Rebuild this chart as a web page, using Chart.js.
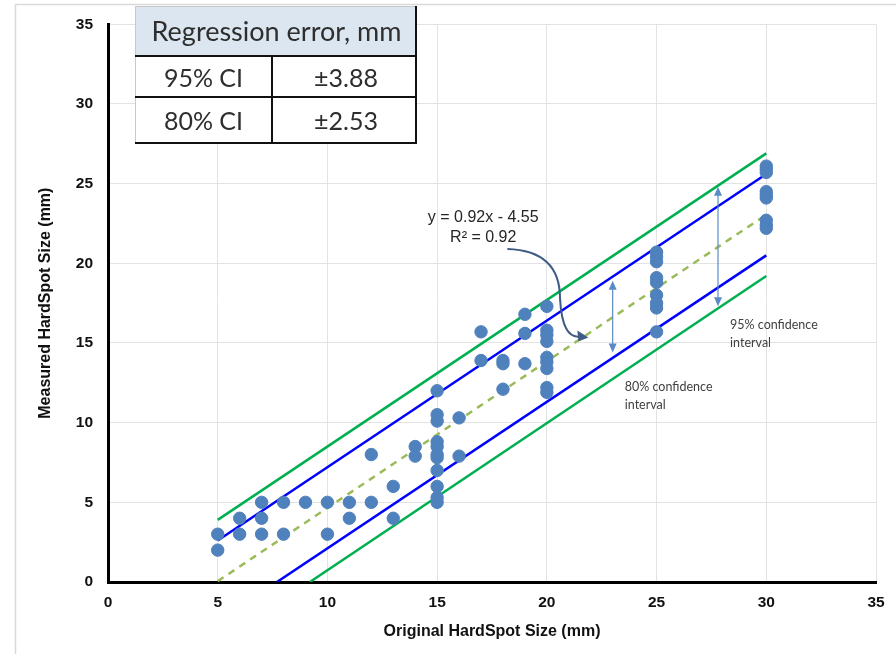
<!DOCTYPE html>
<html>
<head>
<meta charset="utf-8">
<script src="https://cdn.jsdelivr.net/npm/chart.js@4.4.0/dist/chart.umd.min.js"></script>
<style>
    html, body { margin: 0; padding: 0; background: #fff; }
    #wrap { position: relative; width: 896px; height: 654px; }
</style>
</head>
<body>
<div id="wrap"><canvas id="chart" width="896" height="654"></canvas></div>
<script>
// measured points, one entry per spot
var origSize = [
    5, 5, 6, 6, 7, 7, 7, 8, 8, 9, 10, 10, 11, 11, 12, 12, 13, 13, 14, 14,
    15, 15, 15, 15, 15, 15, 15, 15, 15, 15, 15,
    16, 16, 17, 17, 18, 18, 18, 19, 19, 19,
    20, 20, 20, 20, 20, 20, 20, 20, 20,
    25, 25, 25, 25, 25, 25, 25, 25, 25,
    30, 30, 30, 30, 30, 30, 30, 30, 30
];
var measuredSize = [
    3, 2, 4, 3, 5, 4, 3, 5, 3, 5, 5, 3, 5, 4, 8, 5, 6, 4, 8.5, 7.9,
    12, 10.5, 10.1, 8.8, 8.5, 8.0, 7.8, 7.0, 6.0, 5.3, 5.0,
    10.3, 7.9, 15.7, 13.9, 13.9, 13.7, 12.1, 16.8, 15.6, 13.7,
    17.3, 15.8, 15.5, 15.1, 14.1, 13.8, 13.4, 12.2, 11.9,
    20.7, 20.4, 20.1, 19.1, 18.8, 18.0, 17.5, 17.2, 15.7,
    26.1, 25.9, 25.7, 24.5, 24.3, 24.1, 22.7, 22.4, 22.2
];

// regression line and confidence bands (end points)
var fitLine = [[5, 0.05], [30, 23.05]];
var ci80Upper = [[5, 2.6], [30, 25.6]];
var ci80Lower = [[7.7, 0], [30, 20.5]];
var ci95Upper = [[5, 3.9], [30, 26.9]];
var ci95Lower = [[9.2, 0], [30, 19.2]];

var axisTicks = [0, 5, 10, 15, 20, 25, 30, 35];

var tableHeader = 'Regression error, mm';
var tableRows = [['95% CI', '\u00b13.88'], ['80% CI', '\u00b12.53']];

var fitText = ['y = 0.92x - 4.55', 'R\u00b2 = 0.92'];

function toPoints(arr) {
    return arr.map(function (p) { return {x: p[0], y: p[1]}; });
}

var points = origSize.map(function (x, i) { return {x: x, y: measuredSize[i]}; });

function lineSet(data, color, dash) {
    return {
        data: toPoints(data),
        showLine: true,
        borderColor: color,
        borderWidth: 2.5,
        borderDash: dash || [],
        pointRadius: 0,
        order: 2
    };
}

function arrowHead(ctx, x, y, dir) {
    // dir: 1 pointing down, -1 pointing up
    ctx.beginPath();
    ctx.moveTo(x, y);
    ctx.lineTo(x - 4, y - dir * 9);
    ctx.lineTo(x + 4, y - dir * 9);
    ctx.closePath();
    ctx.fill();
}

var extras = {
    id: 'extras',
    beforeDraw: function (chart) {
        var ctx = chart.ctx;
        ctx.save();
        ctx.fillStyle = '#fff';
        ctx.fillRect(0, 0, chart.width, chart.height);
        ctx.strokeStyle = '#d9d9d9';
        ctx.lineWidth = 1.5;
        ctx.beginPath();
        ctx.moveTo(15.5, 654);
        ctx.lineTo(15.5, 4.5);
        ctx.lineTo(896, 4.5);
        ctx.stroke();
        ctx.restore();
    },
    afterDraw: function (chart) {
        var ctx = chart.ctx;
        var xs = chart.scales.x, ys = chart.scales.y;
        ctx.save();

        // double arrows for the intervals
        ctx.strokeStyle = '#5b8bc6';
        ctx.fillStyle = '#5b8bc6';
        ctx.lineWidth = 1.2;
        [[23.0, 18.9, 14.4], [27.8, 24.8, 17.3]].forEach(function (a) {
            var px = xs.getPixelForValue(a[0]);
            var top = ys.getPixelForValue(a[1]);
            var bot = ys.getPixelForValue(a[2]);
            ctx.beginPath();
            ctx.moveTo(px, top + 4);
            ctx.lineTo(px, bot - 4);
            ctx.stroke();
            arrowHead(ctx, px, top, -1);
            arrowHead(ctx, px, bot, 1);
        });

        // curved arrow from the equation to the fit line
        var P = function (x, y) { return [xs.getPixelForValue(x), ys.getPixelForValue(y)]; };
        var s = P(18.2, 20.9), c1 = P(20.6, 20.8), m = P(20.6, 17.8), c2 = P(20.7, 15.2), e = P(21.8, 15.35);
        ctx.strokeStyle = '#3e5c85';
        ctx.fillStyle = '#3e5c85';
        ctx.lineWidth = 2;
        ctx.beginPath();
        ctx.moveTo(s[0], s[1]);
        ctx.quadraticCurveTo(c1[0], c1[1], m[0], m[1]);
        ctx.quadraticCurveTo(c2[0], c2[1], e[0] - 6, e[1] - 1);
        ctx.stroke();
        ctx.beginPath();
        ctx.moveTo(e[0] + 2, e[1]);
        ctx.lineTo(e[0] - 9, e[1] - 7);
        ctx.lineTo(e[0] - 8, e[1] + 4);
        ctx.closePath();
        ctx.fill();

        // equation text
        ctx.fillStyle = '#262626';
        ctx.font = '16px "Liberation Sans", Arial, sans-serif';
        ctx.textAlign = 'center';
        ctx.textBaseline = 'middle';
        var tx = xs.getPixelForValue(17.1);
        ctx.fillText(fitText[0], tx, ys.getPixelForValue(22.9));
        ctx.fillText(fitText[1], tx, ys.getPixelForValue(21.6));

        // interval labels
        ctx.fillStyle = '#404040';
        ctx.font = '12.5px Lato, "Open Sans", sans-serif';
        ctx.textAlign = 'left';
        ctx.fillText('95% confidence', xs.getPixelForValue(28.35), ys.getPixelForValue(16.1));
        ctx.fillText('interval', xs.getPixelForValue(28.35), ys.getPixelForValue(15.0));
        ctx.fillText('80% confidence', xs.getPixelForValue(23.55), ys.getPixelForValue(12.25));
        ctx.fillText('interval', xs.getPixelForValue(23.55), ys.getPixelForValue(11.1));

        // regression error table
        var L = 135, R = 416, C = 272, T = 6, H1 = 56, H2 = 97, B = 143;
        ctx.fillStyle = '#dce6f1';
        ctx.fillRect(L, T, R - L, H1 - T);
        ctx.fillStyle = '#fff';
        ctx.fillRect(L, H1, R - L, B - H1);
        ctx.strokeStyle = '#c8c8c8';
        ctx.lineWidth = 1;
        ctx.beginPath();
        ctx.moveTo(L + 0.5, B);
        ctx.lineTo(L + 0.5, T + 0.5);
        ctx.lineTo(R, T + 0.5);
        ctx.stroke();
        ctx.strokeStyle = '#111';
        ctx.lineWidth = 2;
        ctx.beginPath();
        ctx.moveTo(L, H1); ctx.lineTo(R, H1);
        ctx.moveTo(L, H2); ctx.lineTo(R, H2);
        ctx.moveTo(L, B); ctx.lineTo(R + 1, B);
        ctx.moveTo(R, T); ctx.lineTo(R, B);
        ctx.moveTo(C, H1); ctx.lineTo(C, B);
        ctx.stroke();

        ctx.fillStyle = '#2e2e2e';
        ctx.textAlign = 'center';
        ctx.textBaseline = 'middle';
        ctx.font = '27px Lato, "Open Sans", sans-serif';
        ctx.fillText(tableHeader, (L + R) / 2 + 1, 32);
        ctx.font = '25px Lato, "Open Sans", sans-serif';
        tableRows.forEach(function (row, i) {
            var cy = i === 0 ? 79 : 122;
            ctx.fillText(row[0], (L + C) / 2, cy);
            ctx.fillText(row[1], (C + R) / 2 + 2, cy);
        });

        ctx.restore();
    }
};

var tickFont = {family: '"Liberation Sans", Arial, sans-serif', size: 15.5, weight: 'bold'};
var titleFont = {family: '"Liberation Sans", Arial, sans-serif', size: 16, weight: 'bold'};

var ctx = document.getElementById('chart').getContext('2d');
var chart = new Chart(ctx, {
    type: 'scatter',
    data: {
        datasets: [
            {
                data: points,
                backgroundColor: '#4f81bd',
                borderColor: '#4f81bd',
                pointRadius: 6.2,
                pointHoverRadius: 6.2,
                order: 1
            },
            lineSet(fitLine, '#9bbb59', [7, 6]),
            lineSet(ci80Upper, '#0000ff'),
            lineSet(ci80Lower, '#0000ff'),
            lineSet(ci95Upper, '#00b050'),
            lineSet(ci95Lower, '#00b050')
        ]
    },
    options: {
        responsive: false,
        animation: false,
        layout: {padding: {top: 22, right: 20, left: 0, bottom: 0}},
        plugins: {
            legend: {display: false},
            tooltip: {enabled: false}
        },
        scales: {
            x: {
                type: 'linear',
                min: 0,
                max: 35,
                afterBuildTicks: function (s) { s.ticks = axisTicks.map(function (v) { return {value: v}; }); },
                afterFit: function (s) { s.height = 72; },
                grid: {color: '#e3e3e3', drawTicks: false},
                border: {color: '#000', width: 3},
                ticks: {font: tickFont, color: '#111', padding: 11},
                title: {display: true, text: 'Original HardSpot Size (mm)', font: titleFont, color: '#111', padding: {bottom: 13}}
            },
            y: {
                type: 'linear',
                min: 0,
                max: 35,
                afterBuildTicks: function (s) { s.ticks = axisTicks.map(function (v) { return {value: v}; }); },
                afterFit: function (s) { s.width = 108; },
                grid: {color: '#e3e3e3', drawTicks: false},
                border: {color: '#000', width: 3},
                ticks: {font: tickFont, color: '#111', padding: 15},
                title: {display: true, text: 'Measured HardSpot Size (mm)', font: titleFont, color: '#111', padding: {top: 36}}
            }
        }
    },
    plugins: [extras]
});
</script>
</body>
</html>
